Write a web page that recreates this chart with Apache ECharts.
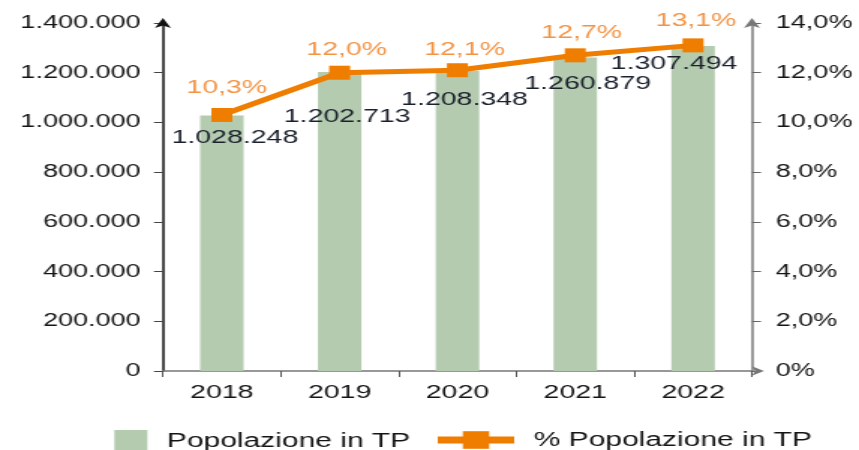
<!DOCTYPE html>
<html>
<head>
<meta charset="utf-8">
<script src="https://cdn.jsdelivr.net/npm/echarts@6/dist/echarts.min.js"></script>
<style>
html,body{margin:0;padding:0;background:#fff;overflow:hidden;}
#c{width:573px;height:450px;transform:scaleX(1.4991);transform-origin:0 0;}
</style>
</head>
<body>
<div id="c"></div>
<script>
const years = ['2018', '2019', '2020', '2021', '2022'];
const popolazione = [1028248, 1202713, 1208348, 1260879, 1307494];
const percentuale = [10.3, 12.0, 12.1, 12.7, 13.1];
const seriesNames = ['Popolazione in TP', '% Popolazione in TP'];

// label placement (styling only)
const barLabelOffsets = [[8.7, 22], [5, 45], [4.7, 29.4], [8.3, 26.4], [-12.7, 18]];
const pctLabelOffsets = [[3.3, -27.5], [4.7, -23.2], [4.7, -20.7], [4.3, -22.8], [2, -24.9]];

const FONT = "'Liberation Sans', Arial, sans-serif";
const GREEN = '#b4cbb0';
const ORANGE = '#ef7d00';
const TEXT = '#141414';

function thousands(v) {
  return String(v).replace(/\B(?=(\d{3})+(?!\d))/g, '.');
}
function pct(v) {
  return v === 0 ? '0%' : v.toFixed(1).replace('.', ',') + '%';
}

const chart = echarts.init(document.getElementById('c'));
chart.setOption({
  animation: false,
  textStyle: { fontFamily: FONT },
  grid: { left: 108.7, right: 71.4, top: 23, bottom: 79, containLabel: false },
  legend: [
    {
      data: [seriesNames[0]],
      left: 71.3, top: 425,
      itemWidth: 22, itemHeight: 22,
      icon: 'rect',
      textStyle: { fontSize: 20, color: TEXT, fontFamily: FONT, padding: [0, 0, 0, 8] }
    },
    {
      data: [seriesNames[1]],
      left: 283.5, top: 425,
      itemWidth: 51, itemHeight: 22,
      lineStyle: { width: 7 },
      textStyle: { fontSize: 20, color: TEXT, fontFamily: FONT, padding: [0, 0, 0, 8] }
    }
  ],
  xAxis: {
    type: 'category',
    data: years,
    axisLine: { lineStyle: { color: '#777', width: 1.5 }, symbol: ['none', 'arrow'], symbolSize: [7, 8], symbolOffset: [0, 8] },
    axisTick: { show: true, length: 6, lineStyle: { color: '#555' } },
    axisLabel: { fontSize: 19, color: TEXT, margin: 12, fontFamily: FONT }
  },
  yAxis: [
    {
      type: 'value', min: 0, max: 1400000, interval: 200000,
      axisLine: { show: true, lineStyle: { color: '#111', width: 1.5 }, symbol: ['none', 'arrow'], symbolSize: [8, 10], symbolOffset: [0, 5] },
      axisTick: { show: true, length: 6, lineStyle: { color: '#444' } },
      splitLine: { show: false },
      axisLabel: { fontSize: 18, color: TEXT, margin: 15, fontFamily: FONT, formatter: thousands }
    },
    {
      type: 'value', min: 0, max: 14, interval: 2,
      position: 'right',
      axisLine: { show: true, lineStyle: { color: '#777', width: 1.5 }, symbol: ['none', 'arrow'], symbolSize: [8, 10], symbolOffset: [0, 5] },
      axisTick: { show: true, length: 6, lineStyle: { color: '#666' } },
      splitLine: { show: false },
      axisLabel: { fontSize: 18, color: TEXT, margin: 16, fontFamily: FONT, formatter: pct }
    }
  ],
  series: [
    {
      name: seriesNames[0],
      type: 'bar',
      yAxisIndex: 0,
      barWidth: 29,
      itemStyle: { color: GREEN },
      data: popolazione.map((v, i) => ({
        value: v,
        label: { offset: barLabelOffsets[i] }
      })),
      label: {
        show: true,
        position: ['50%', 0],
        align: 'center',
        verticalAlign: 'middle',
        fontSize: 19,
        color: '#1a202c',
        fontFamily: FONT,
        formatter: p => thousands(p.value)
      },
      z: 2
    },
    {
      name: seriesNames[1],
      type: 'line',
      yAxisIndex: 1,
      symbol: 'rect',
      symbolSize: 14,
      itemStyle: { color: ORANGE },
      lineStyle: { color: ORANGE, width: 5 },
      data: percentuale.map((v, i) => ({
        value: v,
        label: { offset: pctLabelOffsets[i] }
      })),
      label: {
        show: true,
        position: 'inside',
        align: 'center',
        verticalAlign: 'middle',
        fontSize: 19,
        color: '#f39445',
        fontFamily: FONT,
        formatter: p => pct(p.value)
      },
      z: 3
    }
  ]
});
</script>
</body>
</html>
